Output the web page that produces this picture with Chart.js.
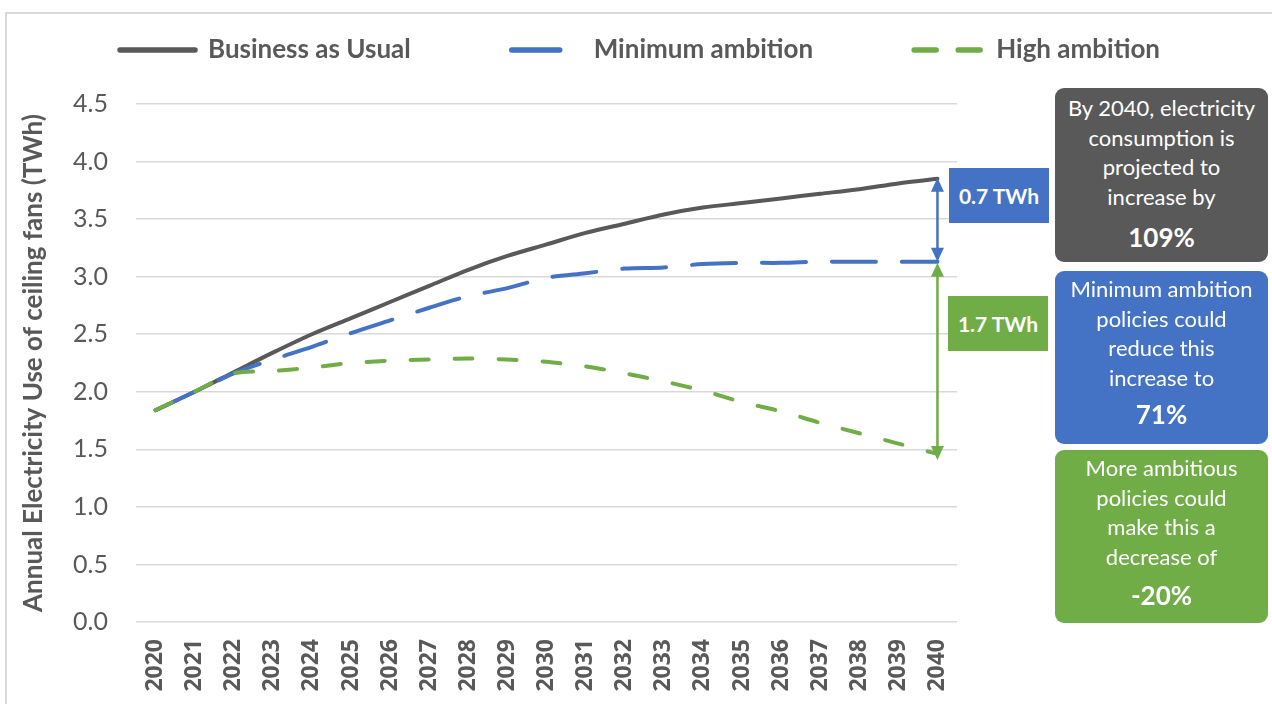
<!DOCTYPE html>
<html>
<head>
<meta charset="utf-8">
<script src="https://cdn.jsdelivr.net/npm/chart.js@4.4.1/dist/chart.umd.min.js"></script>
<style>
  html, body { margin: 0; padding: 0; background: #ffffff; overflow: hidden; }
  #wrap { position: relative; width: 1272px; height: 704px; }
  #frame { position: absolute; left: 5px; top: 12px; width: 1290px; height: 710px; border: 2px solid #D9D9D9; box-sizing: border-box; }
  canvas { position: absolute; left: 0; top: 0; }
  .note { position: absolute; left: 1055px; width: 213px; border-radius: 9px; color: #ffffff; text-align: center;
          font-family: Lato, "Noto Sans", sans-serif; font-size: 22px; line-height: 29.5px; box-sizing: border-box; }
  .note .pct { font-weight: bold; font-size: 26px; }
  .tag { position: absolute; width: 100px; height: 55px; color: #ffffff; font-family: Lato, "Noto Sans", sans-serif;
         font-weight: bold; font-size: 21px; line-height: 55px; text-align: center; }
</style>
</head>
<body>
<div id="wrap">
  <div id="frame"></div>
  <canvas id="c" width="1272" height="704"></canvas>
  <div class="note" style="top:88px;height:174px;background:#595959;padding-top:5px;">By 2040, electricity<br>consumption is<br>projected to<br>increase by<div class="pct" style="margin-top:12px;">109%</div></div>
  <div class="note" style="top:271px;height:173px;background:#4472C4;padding-top:3px;">Minimum ambition<br>policies could<br>reduce this<br>increase to<div class="pct" style="margin-top:8px;">71%</div></div>
  <div class="note" style="top:450px;height:173px;background:#70AD47;padding-top:3px;">More ambitious<br>policies could<br>make this a<br>decrease of<div class="pct" style="margin-top:10px;">-20%</div></div>
  <div class="tag" style="left:949px;top:168px;background:#4472C4;">0.7 TWh</div>
  <div class="tag" style="left:948px;top:296px;background:#70AD47;">1.7 TWh</div>
</div>
<script>
const years = ['2020','2021','2022','2023','2024','2025','2026','2027','2028','2029','2030',
               '2031','2032','2033','2034','2035','2036','2037','2038','2039','2040'];
const businessAsUsual = [1.84, 2.00, 2.17, 2.34, 2.50, 2.64, 2.78, 2.92, 3.06, 3.18, 3.28,
                         3.38, 3.46, 3.54, 3.60, 3.64, 3.68, 3.72, 3.76, 3.81, 3.85];
const minimumAmbition = [1.84, 2.00, 2.16, 2.28, 2.39, 2.51, 2.62, 2.73, 2.83, 2.90, 2.99,
                         3.03, 3.07, 3.08, 3.11, 3.12, 3.12, 3.13, 3.13, 3.13, 3.13];
const highAmbition    = [1.84, 2.00, 2.16, 2.18, 2.21, 2.25, 2.27, 2.28, 2.29, 2.28, 2.26,
                         2.22, 2.16, 2.09, 2.01, 1.91, 1.83, 1.73, 1.64, 1.55, 1.46];
const seriesNames = ['Business as Usual', 'Minimum ambition', 'High ambition'];
const yTicks = [0, 0.5, 1.0, 1.5, 2.0, 2.5, 3.0, 3.5, 4.0, 4.5];

const GRAY = '#595959', BLUE = '#4472C4', GREEN = '#70AD47';

const legendSpace = {
  id: 'legendSpace',
  beforeLayout(chart) {
    const lg = chart.legend;
    if (lg && !lg._patched) {
      const f = lg.fit;
      lg.fit = function () { f.call(this); this.height = 162; };
      lg._patched = true;
    }
  }
};

function arrowHead(ctx, x, tipY, dir, color) {
  ctx.fillStyle = color;
  ctx.beginPath();
  ctx.moveTo(x, tipY);
  ctx.lineTo(x - 6.5, tipY - dir * 14);
  ctx.lineTo(x + 6.5, tipY - dir * 14);
  ctx.closePath();
  ctx.fill();
}
function doubleArrow(ctx, x, yTop, yBot, color) {
  ctx.save();
  ctx.strokeStyle = color;
  ctx.lineWidth = 2.5;
  ctx.beginPath();
  ctx.moveTo(x, yTop + 10);
  ctx.lineTo(x, yBot - 10);
  ctx.stroke();
  arrowHead(ctx, x, yTop, -1, color);
  arrowHead(ctx, x, yBot, 1, color);
  ctx.restore();
}
const arrows = {
  id: 'arrows',
  afterDatasetsDraw(chart) {
    const xs = chart.scales.x, ys = chart.scales.y, ctx = chart.ctx;
    const last = years.length - 1;
    const x = xs.getPixelForValue(last);
    const yB = ys.getPixelForValue(businessAsUsual[last]);
    const yM = ys.getPixelForValue(minimumAmbition[last]);
    const yH = ys.getPixelForValue(highAmbition[last]);
    doubleArrow(ctx, x, yM + 1, yH + 6, GREEN);
    doubleArrow(ctx, x, yB - 1, yM, BLUE);
  }
};

new Chart(document.getElementById('c'), {
  type: 'line',
  data: {
    labels: years,
    datasets: [
      { label: seriesNames[0], data: businessAsUsual, borderColor: GRAY, backgroundColor: GRAY,
        borderWidth: 4, pointRadius: 0, tension: 0.3, borderCapStyle: 'round', order: 3 },
      { label: seriesNames[1], data: minimumAmbition, borderColor: BLUE, backgroundColor: BLUE,
        borderWidth: 4, pointRadius: 0, tension: 0.3, borderDash: [44, 26], borderCapStyle: 'round', order: 2 },
      { label: seriesNames[2], data: highAmbition, borderColor: GREEN, backgroundColor: GREEN,
        borderWidth: 4, pointRadius: 0, tension: 0.3, borderDash: [18, 26], borderCapStyle: 'round', order: 1 }
    ]
  },
  options: {
    responsive: false,
    animation: false,
    layout: { padding: { left: 8, right: 0, top: -58, bottom: 0 } },
    plugins: {
      tooltip: { enabled: false },
      legend: {
        position: 'top',
        labels: {
          usePointStyle: true,
          pointStyle: 'line',
          pointStyleWidth: 75,
          padding: 95,
          color: GRAY,
          font: { family: 'Lato', size: 26, weight: 'bold' },
          generateLabels(chart) {
            const dashes = [[], [48, 60], [22, 22]];
            const offs = [0, -6, -6];
            return chart.data.datasets.map((d, i) => ({
              text: d.label, datasetIndex: i, fillStyle: d.borderColor, strokeStyle: d.borderColor,
              lineWidth: 5.5, lineCap: 'round', lineDash: dashes[i], lineDashOffset: offs[i],
              pointStyle: 'line', fontColor: GRAY, hidden: false
            }));
          }
        }
      }
    },
    scales: {
      x: {
        type: 'category',
        offset: true,
        grid: { display: false },
        border: { display: false },
        ticks: { minRotation: 90, maxRotation: 90, autoSkip: false, padding: 9, color: GRAY,
                 font: { family: 'Open Sans', size: 23, weight: 'bold' } },
        afterFit(s) { s.height = 82; }
      },
      y: {
        type: 'linear',
        min: 0, max: 4.5,
        afterBuildTicks(s) { s.ticks = yTicks.map(v => ({ value: v })); },
        grid: { color: '#D9D9D9', lineWidth: 1.5, drawTicks: false },
        border: { display: false },
        ticks: { padding: 28, color: GRAY, font: { family: 'Lato', size: 25 },
                 callback: v => Number(v).toFixed(1) },
        title: { display: true, text: 'Annual Electricity Use of ceiling fans (TWh)', color: GRAY,
                 font: { family: 'Lato', size: 26, weight: 'bold' }, padding: { top: 10, bottom: 0 } },
        afterFit(s) { s.width = 128; }
      },
      spacer: {
        type: 'linear',
        position: 'right',
        display: true,
        grid: { display: false },
        border: { display: false },
        ticks: { display: false },
        afterFit(s) { s.width = 315; }
      }
    }
  },
  plugins: [legendSpace, arrows]
});
</script>
</body>
</html>
